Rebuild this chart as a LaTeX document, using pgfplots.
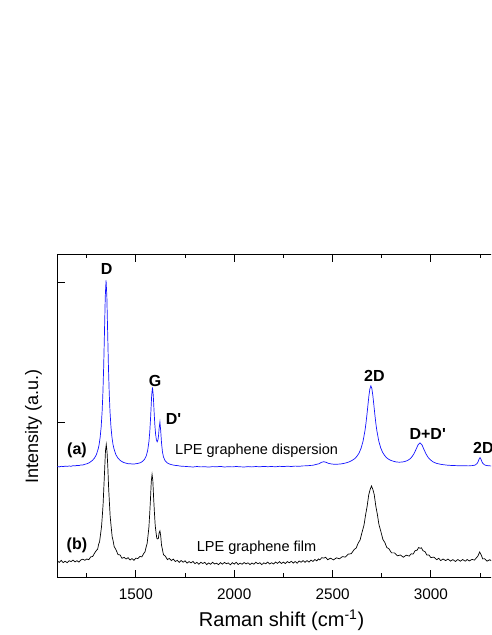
\documentclass[border=0pt]{standalone}
\usepackage{fontspec}
\setmainfont{Liberation Sans}
\usepackage{pgfplots}
\pgfplotsset{compat=1.18}
\definecolor{specblue}{RGB}{20,20,255}
\begin{document}
\begin{tikzpicture}
\path[use as bounding box] (0,0) rectangle (491pt,635pt);
\clip (0,0) rectangle (491pt,635pt);
\begin{axis}[
  at={(57.3pt,57.7pt)}, anchor=south west,
  scale only axis, width=452.2pt, height=323.3pt,
  xmin=1100, xmax=3400, ymin=0, ymax=323.3,
  axis line style={line width=0.9pt},
  tick align=inside,
  xtick={1500,2000,2500,3000},
  minor xtick={1250,1750,2250,2750,3250},
  ytick={155,295}, yticklabels={},
  major tick length=7.7pt, minor tick length=4.3pt,
  every tick/.style={line width=0.9pt, black},
  /pgf/number format/1000 sep={},
  /pgf/number format/assume math mode=true,
  xticklabel style={font=\fontsize{15.3}{18}\selectfont, anchor=base, yshift=-22pt},
  xlabel={Raman shift (cm\textsuperscript{-1})},
  xlabel style={font=\fontsize{20}{24}\selectfont, at={(axis description cs:0.496,-0.1528)}, anchor=base},
  ylabel={Intensity (a.u.)},
  ylabel style={font=\fontsize{18}{21}\selectfont, at={(axis description cs:-0.0526,0.4658)}, anchor=center},
]
% (a) LPE graphene dispersion
\addplot[specblue, line width=0.7pt] coordinates {
(1100,110.8)(1110,110.4)(1120,111.0)(1130,110.7)(1140,111.2)(1150,110.9)(1160,111.3)(1170,111.0)(1180,111.6)(1190,111.4)
(1200,111.9)(1210,111.7)(1220,112.4)(1230,112.3)(1240,113.0)(1250,113.5)(1260,114.3)(1268,115.3)(1278,116.8)(1288,118.9)
(1298,122.3)(1308,128.3)(1313,133.1)(1318,140.0)(1323,150.2)(1328,165.9)(1332,184.7)(1336,211.2)(1340,245.8)(1344,280.9)
(1348,297.0)(1352,281.0)(1356,245.9)(1360,211.3)(1364,184.8)(1368,166.0)(1373,150.3)(1378,140.1)(1383,133.2)(1388,128.7)
(1398,122.6)(1408,119.3)(1418,117.2)(1428,115.8)(1438,114.8)(1448,114.2)(1460,113.6)(1473,113.5)(1486,113.2)(1498,113.5)
(1510,113.9)(1523,114.6)(1533,115.9)(1543,117.8)(1553,121.7)(1560,127.2)(1566,135.6)(1570,144.6)(1574,157.6)(1577,169.8)
(1580,181.8)(1584,189.9)(1588,182.3)(1592,166.8)(1596,152.8)(1600,143.1)(1604,137.5)(1608,135.5)(1612,137.4)(1615,141.9)
(1618,149.1)(1622,155.2)(1626,146.4)(1630,134.5)(1635,125.2)(1640,120.4)(1648,116.7)(1660,114.3)(1670,113.3)(1680,112.7)
(1695,112.0)(1710,111.7)(1730,111.1)(1750,110.9)(1770,110.6)(1790,110.3)(1810,110.8)(1830,110.4)(1850,110.6)(1870,110.2)
(1890,110.7)(1910,110.5)(1930,110.9)(1950,110.3)(1970,110.6)(1990,110.4)(2010,110.8)(2030,110.5)(2050,110.3)(2070,110.7)
(2090,110.4)(2110,110.8)(2130,110.5)(2150,110.9)(2170,110.6)(2190,110.8)(2210,110.5)(2230,111.0)(2250,110.7)(2270,111.1)
(2290,110.8)(2310,111.2)(2330,111.0)(2350,111.4)(2370,111.5)(2390,111.9)(2400,112.0)(2415,112.8)(2430,113.5)(2443,114.9)
(2455,115.6)(2467,115.0)(2480,113.9)(2495,113.3)(2510,113.0)(2525,113.1)(2540,113.3)(2555,113.8)(2570,114.5)(2583,115.3)
(2595,116.4)(2605,117.6)(2615,119.0)(2625,121.3)(2635,124.3)(2645,129.0)(2655,136.0)(2665,146.8)(2670,154.1)(2675,162.8)
(2680,172.3)(2685,181.6)(2690,188.6)(2695,191.4)(2700,188.7)(2705,181.7)(2710,172.5)(2715,163.0)(2720,154.3)(2725,147.0)
(2735,136.3)(2745,129.4)(2755,124.8)(2765,121.8)(2775,119.5)(2785,118.1)(2795,117.0)(2810,116.0)(2825,115.3)(2840,115.1)
(2855,115.3)(2865,115.7)(2875,116.3)(2885,117.2)(2895,118.6)(2905,120.8)(2915,123.9)(2925,128.1)(2935,132.5)(2945,134.4)
(2955,132.4)(2965,127.8)(2975,123.5)(2985,120.2)(2995,117.9)(3010,115.6)(3020,114.6)(3030,113.9)(3045,113.2)(3060,112.7)
(3080,112.2)(3100,111.9)(3125,111.7)(3150,111.5)(3170,111.6)(3190,111.4)(3210,111.7)(3225,112.2)(3235,113.8)(3240,115.4)
(3245,118.0)(3250,119.7)(3255,118.0)(3260,115.4)(3265,113.8)(3275,112.2)(3290,111.6)(3310,111.3)(3330,111.2)(3350,111.0)
(3370,111.1)(3390,110.9)
};
% (b) LPE graphene film
\addplot[black, line width=0.7pt] coordinates {
(1100,16.4)(1110,14.9)(1120,16.9)(1130,14.7)(1140,16.1)(1150,14.6)(1160,16.6)(1170,15.7)(1180,17.2)(1190,15.4)
(1200,16.6)(1210,15.2)(1220,17.4)(1230,18.1)(1240,17.0)(1250,18.3)(1260,17.6)(1270,20.4)(1280,20.8)(1290,24.3)
(1300,27.2)(1305,28.0)(1310,32.9)(1315,35.5)(1320,43.0)(1325,50.7)(1329,61.5)(1333,73.2)(1337,91.0)(1341,108.3)
(1345,126.2)(1349,132.8)(1353,125.4)(1357,110.2)(1361,89.7)(1365,74.9)(1369,60.6)(1374,50.5)(1379,40.6)(1384,36.5)
(1389,30.9)(1399,27.3)(1409,22.7)(1419,22.4)(1429,19.0)(1440,19.9)(1450,18.3)(1460,19.6)(1470,17.3)(1480,18.7)
(1490,17.0)(1500,19.2)(1510,18.7)(1520,20.9)(1530,20.4)(1540,24.0)(1546,25.4)(1552,30.4)(1557,33.9)(1562,42.7)
(1566,50.2)(1570,63.5)(1574,78.5)(1578,95.9)(1582,102.9)(1586,96.4)(1590,79.1)(1594,64.8)(1598,51.8)(1602,45.1)
(1606,39.1)(1610,38.4)(1614,38.8)(1618,44.5)(1622,46.4)(1626,41.5)(1630,32.3)(1635,27.5)(1640,22.7)(1650,21.0)
(1660,17.7)(1670,18.9)(1680,16.7)(1690,18.2)(1700,15.8)(1710,16.9)(1720,14.9)(1730,16.8)(1740,15.1)(1750,16.5)
(1760,14.2)(1770,15.7)(1780,14.4)(1790,15.9)(1800,13.6)(1810,14.9)(1820,13.0)(1830,15.0)(1840,13.8)(1850,15.0)
(1860,12.7)(1870,14.4)(1880,13.0)(1890,15.0)(1900,13.3)(1910,14.1)(1920,12.6)(1930,14.7)(1940,13.1)(1950,14.9)
(1960,13.6)(1970,14.4)(1980,12.5)(1990,14.6)(2000,13.2)(2010,15.0)(2020,12.8)(2030,14.2)(2040,13.0)(2050,14.8)
(2060,13.4)(2070,14.5)(2080,12.7)(2090,14.3)(2100,13.1)(2110,15.1)(2120,13.5)(2130,14.6)(2140,12.6)(2150,14.5)
(2160,13.5)(2170,15.2)(2180,13.3)(2190,14.6)(2200,13.3)(2210,15.3)(2220,13.9)(2230,15.7)(2240,13.8)(2250,15.2)
(2260,13.7)(2270,15.7)(2280,14.5)(2290,16.0)(2300,14.2)(2310,15.8)(2320,14.1)(2330,16.3)(2340,15.0)(2350,16.7)
(2360,15.0)(2370,16.7)(2380,15.2)(2390,17.2)(2400,15.9)(2410,17.8)(2420,16.4)(2428,18.4)(2435,17.4)(2445,19.6)
(2455,19.2)(2465,20.0)(2475,17.6)(2490,19.1)(2505,17.4)(2520,19.5)(2535,18.5)(2550,20.7)(2565,20.2)(2580,23.2)
(2595,23.6)(2610,27.8)(2620,29.2)(2630,34.0)(2640,37.3)(2650,45.0)(2660,52.2)(2668,62.4)(2676,71.1)(2684,82.5)
(2691,87.7)(2698,91.3)(2705,87.9)(2712,82.7)(2720,71.3)(2728,62.8)(2736,52.7)(2746,45.6)(2756,37.9)(2766,34.8)
(2776,29.7)(2786,28.7)(2800,24.4)(2815,24.4)(2830,21.5)(2845,22.3)(2860,20.1)(2875,22.1)(2890,21.2)(2900,23.5)
(2910,23.3)(2920,26.6)(2930,27.1)(2938,29.8)(2945,29.0)(2952,29.5)(2960,26.6)(2970,25.7)(2980,22.2)(2990,22.4)
(3000,19.7)(3015,20.2)(3030,17.6)(3040,19.0)(3050,16.7)(3062,18.3)(3075,16.7)(3087,18.2)(3100,16.2)(3112,17.7)
(3125,15.8)(3137,17.8)(3150,16.1)(3162,17.8)(3175,16.1)(3185,17.8)(3195,16.4)(3210,17.9)(3222,17.2)(3232,19.6)
(3240,21.5)(3248,25.3)(3256,22.4)(3264,18.4)(3274,18.5)(3286,16.2)(3300,17.6)(3312,15.8)(3325,17.6)(3337,16.1)
(3350,17.6)(3362,16.1)(3375,17.5)(3390,16.2)
};
% peak labels
\begin{scope}[every node/.style={font=\bfseries\fontsize{16}{19}\selectfont, inner sep=0pt}]
\node at (axis cs:1351,308) {D};
\node at (axis cs:1597,196.8) {G};
\node at (axis cs:1691,158.3) {D\textquotesingle};
\node at (axis cs:2713,201.3) {2D};
\node at (axis cs:2984,143.1) {D+D\textquotesingle};
\node[anchor=west] at (axis cs:3214,129.3) {2D\textquotesingle};
\node at (axis cs:1200,127) {(a)};
\node at (axis cs:1200,31.5) {(b)};
\end{scope}
\node[font=\fontsize{14.5}{17}\selectfont, inner sep=0pt, anchor=base west] at (axis cs:1698.6,122.3) {LPE graphene dispersion};
\node[font=\fontsize{14.5}{17}\selectfont, inner sep=0pt, anchor=base west] at (axis cs:1809,25.6) {LPE graphene film};
\end{axis}
\end{tikzpicture}
\end{document}
